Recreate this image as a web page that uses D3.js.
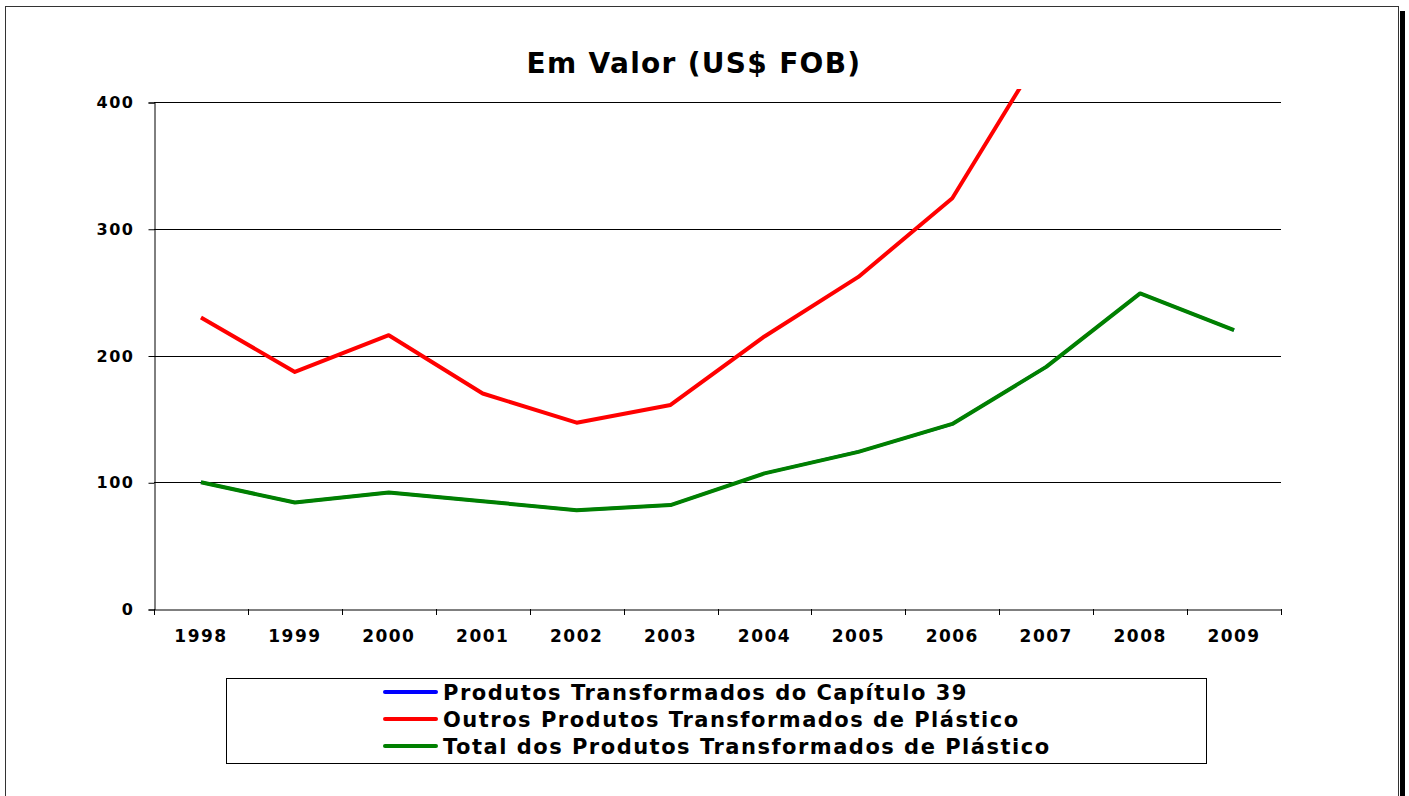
<!DOCTYPE html>
<html>
<head>
<meta charset="utf-8">
<script src="https://cdn.jsdelivr.net/npm/d3@7"></script>
<style>
  body { margin: 0; background: #fff; }
  text { font-family: "DejaVu Sans", Verdana, sans-serif; font-weight: bold; }
</style>
</head>
<body>
<div id="chart"></div>
<script>
let years = ["1998","1999","2000","2001","2002","2003","2004","2005","2006","2007","2008","2009"];
// blue series is not visible in the picture (hidden under the green one)
let capitulo39 = [100, 84, 92, 85, 78, 82, 107, 124, 146, 191, 249, 220];
let outros = [230, 187, 216, 170, 147, 161, 215, 262, 324, 445, 590, 560];
let total = [100, 84, 92, 85, 78, 82, 107, 124, 146, 191, 249, 220];
let yTicks = [0, 100, 200, 300, 400];

let seriesNames = ["Produtos Transformados do Capítulo 39",
  "Outros Produtos Transformados de Plástico",
  "Total dos Produtos Transformados de Plástico"];
let colors = ["#0000ff", "#ff0000", "#008000"];

let svg = d3.select("#chart").append("svg")
    .attr("width", 1409)
    .attr("height", 796);

// outer frame + shadow
svg.append("rect")
    .attr("x", 1400).attr("y", 11)
    .attr("width", 5).attr("height", 800)
    .attr("fill", "#000");
svg.append("rect")
    .attr("x", 5.5).attr("y", 6.5)
    .attr("width", 1393).attr("height", 820)
    .attr("fill", "#fff")
    .attr("stroke", "#333");

let x = d3.scaleBand()
    .domain(years)
    .range([154, 1281]);

let y = d3.scaleLinear()
    .domain([0, 400])
    .range([609, 102]);

svg.append("text")
    .attr("x", 694)
    .attr("y", 73)
    .attr("text-anchor", "middle")
    .attr("font-size", 28)
    .attr("letter-spacing", 1.3)
    .text("Em Valor (US$ FOB)");

// gridlines
svg.selectAll(".grid")
    .data(yTicks.filter(d => d > 0))
    .enter().append("line")
    .attr("x1", 154).attr("x2", 1281)
    .attr("y1", d => Math.round(y(d)) + 0.5)
    .attr("y2", d => Math.round(y(d)) + 0.5)
    .attr("stroke", "#000");

// y axis
let yAxis = svg.append("g")
    .attr("transform", "translate(154.5,0.5)")
    .call(d3.axisLeft(y).tickValues(yTicks).tickSizeOuter(0).tickSize(6).tickPadding(14));
yAxis.select(".domain").attr("stroke", "#000");
yAxis.selectAll("text").attr("font-size", 16).attr("letter-spacing", 1.5).attr("fill", "#000");

// x axis, ticks between categories
let xAxis = svg.append("g")
    .attr("transform", "translate(0,609.5)")
    .call(d3.axisBottom(x).tickSize(0).tickPadding(20));
xAxis.select(".domain").attr("stroke", "#000");
xAxis.selectAll("text").attr("font-size", 17).attr("letter-spacing", 1.5).attr("fill", "#000");
svg.selectAll(".xtick")
    .data(years.concat(["end"]))
    .enter().append("line")
    .attr("x1", (d, i) => Math.round(154 + i * x.step()) + 0.5)
    .attr("x2", (d, i) => Math.round(154 + i * x.step()) + 0.5)
    .attr("y1", 609).attr("y2", 615)
    .attr("stroke", "#000");

svg.append("clipPath").attr("id", "clip")
  .append("rect")
    .attr("x", 0).attr("y", 89)
    .attr("width", 1409).attr("height", 600);

let line = d3.line()
    .x((d, i) => x(years[i]) + x.bandwidth() / 2)
    .y(d => y(d));

[capitulo39, outros, total].forEach((s, k) => {
  svg.append("path")
    .datum(s)
    .attr("d", line)
    .attr("clip-path", "url(#clip)")
    .attr("fill", "none")
    .attr("stroke", colors[k])
    .attr("stroke-width", k === 0 ? 3 : 4)
    .attr("stroke-linejoin", "round");
});

// legend
svg.append("rect")
    .attr("x", 226.5).attr("y", 678.5)
    .attr("width", 980).attr("height", 85)
    .attr("fill", "#fff")
    .attr("stroke", "#000");

seriesNames.forEach((name, k) => {
  let ly = 692 + k * 27;
  svg.append("line")
    .attr("x1", 385).attr("x2", 436)
    .attr("y1", ly).attr("y2", ly)
    .attr("stroke", colors[k])
    .attr("stroke-width", 4)
    .attr("stroke-linecap", "round");
  svg.append("text")
    .attr("x", 443)
    .attr("y", ly + 8)
    .attr("font-size", 21)
    .attr("letter-spacing", 1.5)
    .text(name);
});
</script>
</body>
</html>
